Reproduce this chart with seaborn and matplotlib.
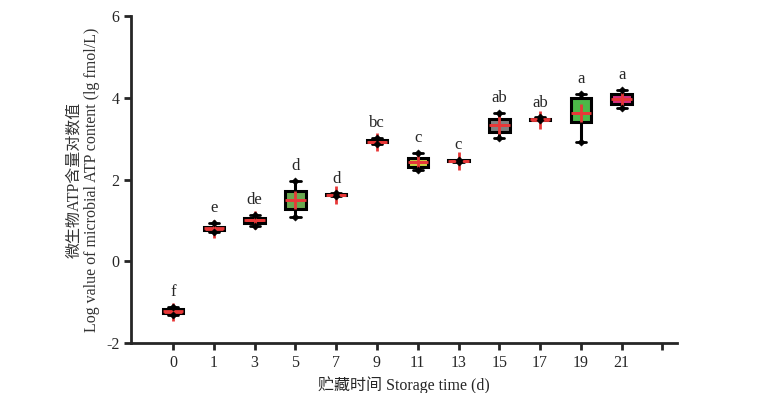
import numpy as np
import pandas as pd
import seaborn as sns
import matplotlib.pyplot as plt

# storage days and the box statistics (lg fmol/L)
days = ["0", "1", "3", "5", "7", "9", "11", "13", "15", "17", "19", "21"]
low = [-1.32, 0.71, 0.86, 1.08, 1.60, 2.88, 2.24, 2.43, 3.03, 3.45, 2.91, 3.76]
q1 = [-1.27, 0.76, 0.94, 1.27, 1.62, 2.91, 2.32, 2.45, 3.17, 3.47, 3.42, 3.85]
med = [-1.22, 0.81, 1.00, 1.50, 1.63, 2.93, 2.43, 2.46, 3.34, 3.48, 3.64, 3.97]
q3 = [-1.17, 0.85, 1.07, 1.71, 1.64, 2.96, 2.53, 2.47, 3.48, 3.49, 4.00, 4.09]
high = [-1.12, 0.95, 1.14, 1.96, 1.66, 3.03, 2.65, 2.49, 3.63, 3.52, 4.10, 4.20]
means = [-1.23, 0.80, 1.00, 1.50, 1.63, 2.92, 2.43, 2.46, 3.34, 3.47, 3.64, 3.98]
letters = ["f", "e", "de", "d", "d", "bc", "c", "c", "ab", "ab", "a", "a"]
colors = ["#E04040", "#E04848", "#E03C3C", "#6AA84F", "#E04040", "#E04040",
          "#C8D040", "#E04040", "#808080", "#E04040", "#4CB848", "#D43080"]

# five values per day so that quartiles land on the read box edges
rows = []
for i, d in enumerate(days):
    for v in (low[i], q1[i], med[i], q3[i], high[i]):
        rows.append({"day": d, "value": v})
df = pd.DataFrame(rows)

sns.set_style("ticks")
plt.rcParams["font.family"] = ["Liberation Serif", "Noto Sans CJK SC"]
plt.rcParams["font.size"] = 10.5
plt.rcParams["axes.unicode_minus"] = False

fig = plt.figure(figsize=(7.76, 3.93), dpi=100)
ax = fig.add_axes([0.169, 0.127, 0.703, 0.832])

sns.boxplot(data=df, x="day", y="value", order=days, hue="day",
            palette=dict(zip(days, colors)), legend=False, saturation=1,
            whis=(0, 100), width=0.5, linewidth=2.2, linecolor="black",
            showfliers=False, ax=ax,
            medianprops=dict(color="#E83838", linewidth=2),
            capprops=dict(linewidth=2))

# whisker end points
ends = pd.DataFrame({"day": days * 2, "value": low + high})
sns.scatterplot(data=ends, x="day", y="value", marker="D", color="black",
                s=14, edgecolor="black", zorder=5, ax=ax)

# mean marker
xs = np.arange(len(days))
ax.scatter(xs, means, marker="+", s=150, color="#E83838", linewidths=2, zorder=4)

for i, lab in enumerate(letters):
    ax.annotate(lab, (i, high[i]), xytext=(0, 5), textcoords="offset points",
                ha="center", va="bottom", fontsize=12)

ax.set_ylim(-2, 6)
ax.set_yticks([-2, 0, 2, 4, 6])
ax.set_xlim(-1.03, 12.35)
ax.set_xticks(range(13))
ax.set_xticklabels(days + [""])
ax.set_xlabel("贮藏时间 Storage time (d)", fontsize=11.5)
ax.set_ylabel("微生物ATP含量对数值\nLog value of microbial ATP content (lg fmol/L)",
              fontsize=11.5, color="#333333")

sns.despine(ax=ax)
for s in ("left", "bottom"):
    ax.spines[s].set_linewidth(2)
ax.tick_params(width=2, length=5, labelsize=11.5)

fig.savefig("out.png", dpi=100)
